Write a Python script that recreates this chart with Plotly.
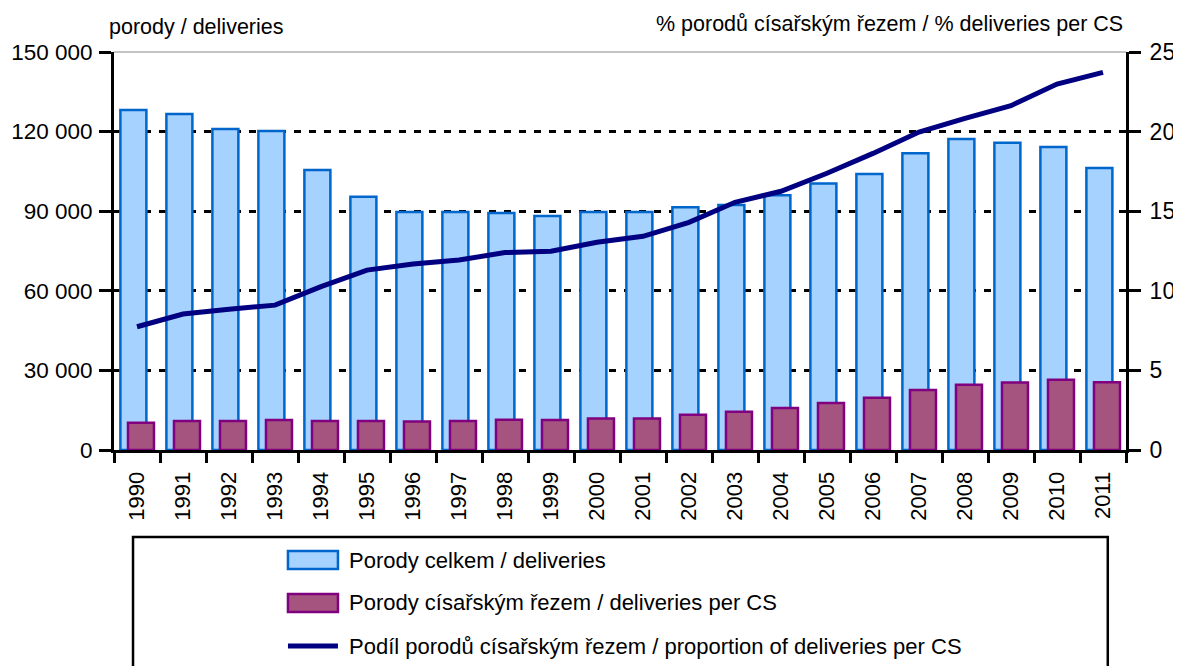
import plotly.graph_objects as go

years = [str(y) for y in range(1990, 2012)]
deliveries = [128100, 126600, 121000, 120200, 105500, 95400, 89700, 89700, 89300, 88200, 89700,
              89700, 91500, 92300, 96000, 100400, 104000, 111800, 117200, 115800, 114200, 106300]
deliveries_cs = [10300, 10900, 10900, 11300, 10900, 10900, 10700, 10900, 11400, 11300, 11900,
                 11900, 13300, 14400, 15800, 17700, 19700, 22600, 24600, 25400, 26500, 25500]
share_cs = [7.74, 8.54, 8.84, 9.10, 10.26, 11.30, 11.68, 11.93, 12.40, 12.48, 13.05,
            13.42, 14.30, 15.56, 16.25, 17.38, 18.63, 19.97, 20.83, 21.63, 22.99, 23.72]

left_ticks = [0, 30000, 60000, 90000, 120000, 150000]
left_ticktext = ["0", "30 000", "60 000", "90 000", "120 000", "150 000"]
right_ticks = [0, 5, 10, 15, 20, 25]

names = ["Porody celkem / deliveries",
         "Porody císařským řezem / deliveries per CS",
         "Podíl porodů císařským řezem / proportion of deliveries per CS"]

FONT = "Liberation Sans, Arial, sans-serif"

fig = go.Figure()
fig.add_trace(go.Bar(x=years, y=deliveries, name=names[0], width=0.565, offset=-0.361,
                     marker=dict(color="#A6D2FF", line=dict(color="#0066CC", width=2.5)),
                     showlegend=False))
fig.add_trace(go.Bar(x=years, y=deliveries_cs, name=names[1], width=0.565, offset=-0.196,
                     marker=dict(color="#A5547F", line=dict(color="#800080", width=2.5)),
                     showlegend=False))
fig.add_trace(go.Scatter(x=years, y=share_cs, name=names[2], yaxis="y2", mode="lines",
                         line=dict(color="#000080", width=5), showlegend=False))

fig.update_layout(
    width=1181, height=666,
    margin=dict(l=106, r=63, t=44, b=224, autoexpand=False),
    paper_bgcolor="white", plot_bgcolor="white",
    barmode="overlay",
    font=dict(family=FONT, size=22, color="black"),
    xaxis=dict(type="category", tickson="boundaries", ticks="outside", ticklen=10,
               tickwidth=2.5, tickcolor="black", showline=True, linecolor="black",
               linewidth=3, tickangle=-90, tickfont=dict(family=FONT, size=22),
               ticklabelstandoff=10,
               showgrid=False, range=[-0.5, 21.5], automargin=False),
    yaxis=dict(range=[0, 150000], tickvals=left_ticks, ticktext=left_ticktext,
               ticks="outside", ticklen=12, tickwidth=2.5, tickcolor="black",
               showline=True, linecolor="black", linewidth=3, ticklabelstandoff=2,
               tickfont=dict(family=FONT, size=22.5), automargin=False,
               showgrid=True, gridcolor="black", gridwidth=3, griddash="7px,8px",
               zeroline=False),
    yaxis2=dict(range=[0, 25], tickvals=right_ticks, overlaying="y", side="right",
                ticks="outside", ticklen=12, tickwidth=2.5, tickcolor="black",
                showline=True, linecolor="black", linewidth=3, automargin=False,
                ticklabelstandoff=4,
                tickfont=dict(family=FONT, size=23), showgrid=False, zeroline=False),
)

fig.add_annotation(text="porody / deliveries", xref="paper", yref="paper",
                   x=-0.007, y=1.063, xanchor="left", yanchor="middle", showarrow=False,
                   font=dict(size=21.5))
fig.add_annotation(text="% porodů císařským řezem / % deliveries per CS", xref="paper",
                   yref="paper", x=0.999, y=1.07, xanchor="right", yanchor="middle",
                   showarrow=False, font=dict(size=21.5))

# top border thin line
fig.add_shape(type="line", xref="paper", yref="paper", x0=0, x1=1, y0=1, y1=1,
              line=dict(color="#888888", width=1), layer="below")

# legend frame and items
fig.add_shape(type="rect", xref="paper", yref="paper", x0=0.0188, x1=0.982, y0=-0.60, y1=-0.2186,
              line=dict(color="black", width=2.5), fillcolor="rgba(0,0,0,0)")
fig.add_shape(type="rect", xref="paper", yref="paper", x0=0.1719, x1=0.2213, y0=-0.299, y1=-0.2538,
              line=dict(color="#0066CC", width=2.5), fillcolor="#A6D2FF")
fig.add_shape(type="rect", xref="paper", yref="paper", x0=0.1719, x1=0.2213, y0=-0.407, y1=-0.3618,
              line=dict(color="#800080", width=2.5), fillcolor="#A5547F")
fig.add_shape(type="line", xref="paper", yref="paper", x0=0.1719, x1=0.2213, y0=-0.4925, y1=-0.4925,
              line=dict(color="#000080", width=5))
for name, yc in zip(names, [-0.2764, -0.3844, -0.4925]):
    fig.add_annotation(text=name, xref="paper", yref="paper", x=0.2302, y=yc,
                       xanchor="left", yanchor="middle", showarrow=False, font=dict(size=22))

fig.write_html("out.html")
